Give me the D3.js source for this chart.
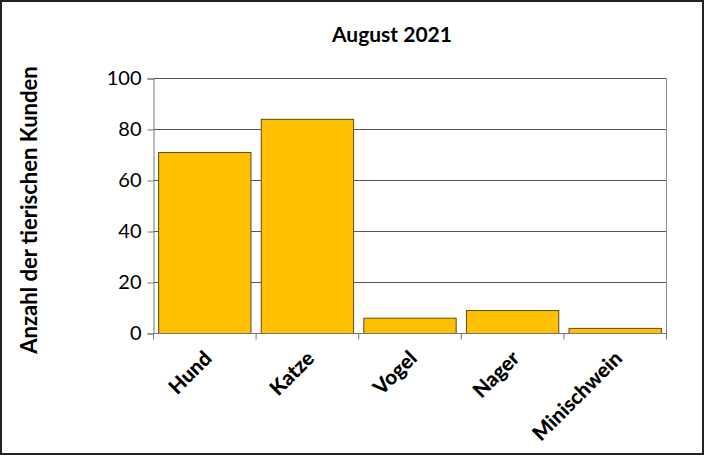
<!DOCTYPE html>
<html><head><meta charset="utf-8">
<script src="https://cdn.jsdelivr.net/npm/d3@7"></script>
<style>body{margin:0;background:#fff}svg{display:block}</style>
</head><body>
<svg id="c" width="704" height="455"></svg>
<script>
const categories = ["Hund","Katze","Vogel","Nager","Minischwein"];
const values = [71, 84, 6, 9, 2];
const yTicks = [0,20,40,60,80,100];
const title = "August 2021";
const yLabel = "Anzahl der tierischen Kunden";

const svg = d3.select("#c");
const font = "Lato, 'Open Sans', sans-serif";
svg.append("rect").attr("x",1).attr("y",1).attr("width",702).attr("height",453)
  .attr("fill","#fff").attr("stroke","#222").attr("stroke-width",2);

const L=153.5, R=666.5, T=78.5, B=333.5;
const x = d3.scaleBand().domain(categories).range([L,R]).paddingInner(0.1).paddingOuter(0.05);
const y = d3.scaleLinear().domain([0,100]).range([B,T]);

svg.append("g").selectAll("line").data(yTicks).join("line")
  .attr("x1",L).attr("x2",R).attr("y1",d=>y(d)).attr("y2",d=>y(d))
  .attr("stroke","#555").attr("stroke-width",1);
svg.append("line").attr("x1",R).attr("x2",R).attr("y1",T).attr("y2",B).attr("stroke","#888");

svg.append("g").selectAll("rect").data(values).join("rect")
  .attr("x",(d,i)=>x(categories[i])).attr("width",x.bandwidth())
  .attr("y",d=>y(d)).attr("height",d=>B-y(d))
  .attr("fill","#FFC000").attr("stroke","#5a4a20").attr("stroke-width",1);

const ya = svg.append("g").attr("transform",`translate(${L},0)`)
  .call(d3.axisLeft(y).tickValues(yTicks).tickSize(6).tickPadding(6).tickFormat(d3.format("d")));
ya.select(".domain").attr("stroke","#777");
ya.selectAll(".tick line").attr("stroke","#777");
ya.selectAll("text").attr("font-family",font).attr("font-size",20).attr("fill","#000");

const xa = svg.append("g").attr("transform",`translate(0,${B})`);
xa.append("line").attr("x1",L).attr("x2",R).attr("stroke","#777");
const bounds = d3.range(categories.length+1).map(i=>L + (R-L)*i/categories.length);
xa.selectAll("line.t").data(bounds).join("line").attr("class","t")
  .attr("x1",d=>d).attr("x2",d=>d).attr("y1",0).attr("y2",6).attr("stroke","#777");
xa.selectAll("text").data(categories).join("text")
  .attr("transform",d=>`translate(${x(d)+x.bandwidth()/2-2},${16}) rotate(-45)`)
  .attr("text-anchor","end").attr("dy","0.7em")
  .attr("font-family",font).attr("font-weight",900).attr("font-size",20.5).attr("fill","#000")
  .text(d=>d);

svg.append("text").attr("x",392).attr("y",42).attr("text-anchor","middle")
  .attr("font-family",font).attr("font-weight","bold").attr("font-size",21).text(title);
svg.append("text").attr("transform","translate(37,210) rotate(-90)").attr("text-anchor","middle")
  .attr("font-family",font).attr("font-weight","bold").attr("font-size",22).text(yLabel);
</script>
</body></html>
